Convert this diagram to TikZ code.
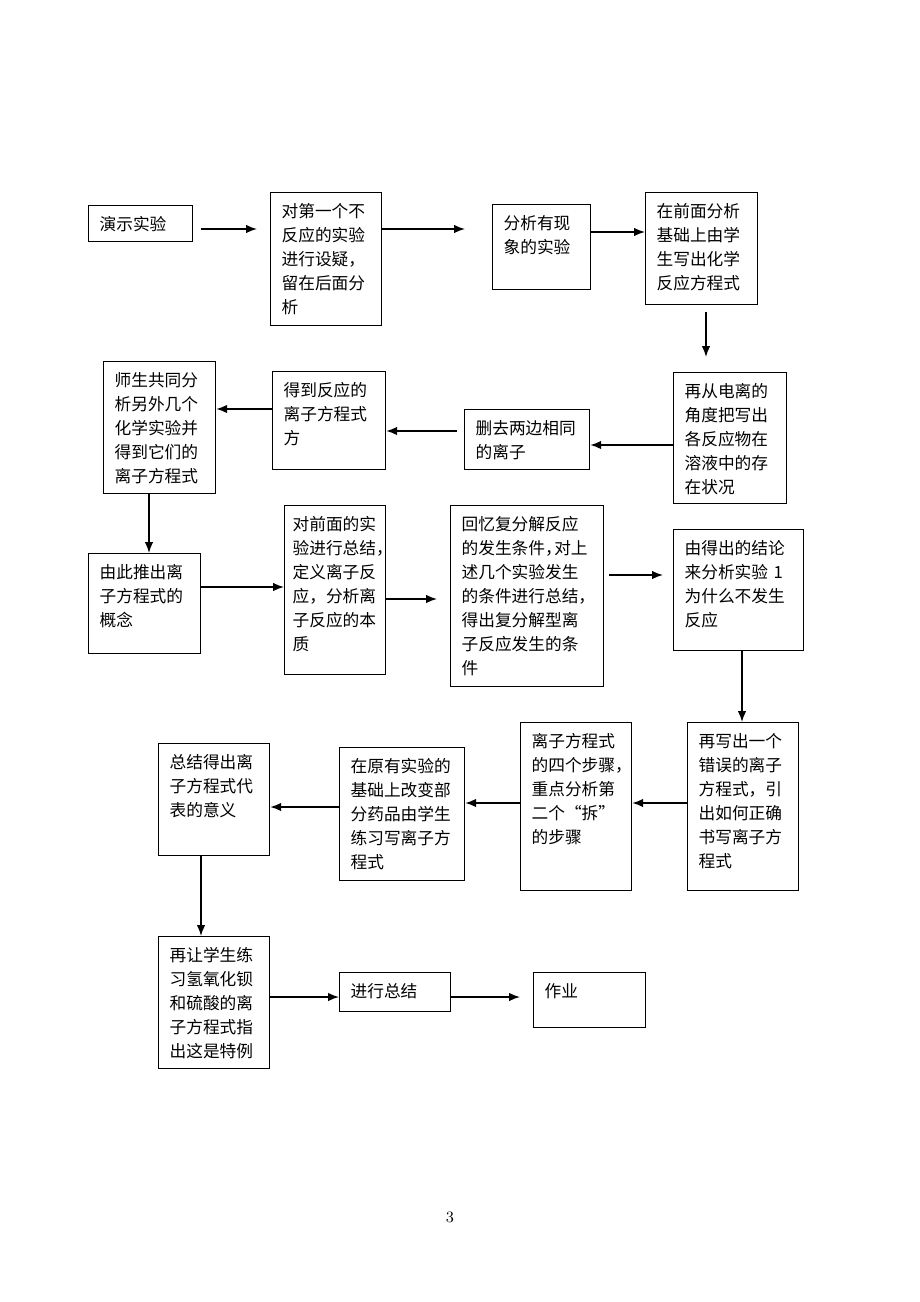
\documentclass[tikz,border=0pt]{standalone}
\usepackage{fontspec}
\newfontfamily\cjk{Noto Sans CJK SC}
\usetikzlibrary{arrows.meta}
\newcommand{\dou}{\makebox[0.55em][l]{，}}
\begin{document}
\begin{tikzpicture}[
  stepbox/.style = {draw, line width=0.7pt, anchor=north west,
    align=left, inner xsep=0.22cm, inner ysep=0.2cm, text height=0.3cm,
    font=\cjk\fontsize{9.5}{13.6}\selectfont},
  flow/.style = {draw, line width=0.8pt, -{Latex[length=0.22cm,width=0.17cm]}}]
  \useasboundingbox (0,0) rectangle (18.4,-26.04);
  % first row
  \node[stepbox, text width=1.64cm, text depth=0.02cm] (yanshi) at (1.76,-4.10) {演示实验};
  \node[stepbox, text width=1.78cm, text depth=1.96cm] (zhiyi) at (5.40,-3.84)
    {对第一个不\\反应的实验\\进行设疑，\\留在后面分\\析};
  \node[stepbox, text width=1.52cm, text depth=1.00cm] (xianxiang) at (9.84,-4.08)
    {分析有现\\象的实验};
  \node[stepbox, text width=1.80cm, text depth=1.54cm] (fangcheng) at (12.90,-3.84)
    {在前面分析\\基础上由学\\生写出化学\\反应方程式};
  % second row
  \node[stepbox, text width=1.82cm, text depth=1.92cm] (dianli) at (13.46,-7.44)
    {再从电离的\\角度把写出\\各反应物在\\溶液中的存\\在状况};
  \node[stepbox, text width=2.06cm, text depth=0.50cm] (shanqu) at (9.28,-8.18)
    {删去两边相同\\的离子};
  \node[stepbox, text width=1.82cm, text depth=1.26cm] (dedao) at (5.44,-7.42)
    {得到反应的\\离子方程式\\方};
  \node[stepbox, text width=1.80cm, text depth=1.94cm] (shisheng) at (2.06,-7.22)
    {师生共同分\\析另外几个\\化学实验并\\得到它们的\\离子方程式};
  % third row
  \node[stepbox, text width=1.80cm, text depth=1.30cm] (gainian) at (1.76,-11.06)
    {由此推出离\\子方程式的\\概念};
  \node[stepbox, inner xsep=0.16cm, text width=1.70cm, text depth=2.68cm] (zongjie) at (5.68,-10.10)
    {对前面的实\\验进行总结\dou\\定义离子反\\应，分析离\\子反应的本\\质};
  \node[stepbox, text width=2.62cm, text depth=2.92cm] (huiyi) at (9.00,-10.10)
    {回忆复分解反应\\的发生条件\dou 对上\\述几个实验发生\\的条件进行总结\dou\\得出复分解型离\\子反应发生的条\\件};
  \node[stepbox, text width=2.16cm, text depth=1.72cm] (jielun) at (13.46,-10.58)
    {由得出的结论\\来分析实验 1\\为什么不发生\\反应};
  % fourth row
  \node[stepbox, text width=1.78cm, text depth=2.66cm] (cuowu) at (13.74,-14.44)
    {再写出一个\\错误的离子\\方程式，引\\出如何正确\\书写离子方\\程式};
  \node[stepbox, text width=1.78cm, text depth=2.66cm] (buzhou) at (10.40,-14.44)
    {离子方程式\\的四个步骤\dou\\重点分析第\\二个“拆”\\的步骤};
  \node[stepbox, text width=2.06cm, text depth=1.96cm] (lianxi) at (6.78,-14.94)
    {在原有实验的\\基础上改变部\\分药品由学生\\练习写离子方\\程式};
  \node[stepbox, text width=1.78cm, text depth=1.54cm] (yiyi) at (3.16,-14.86)
    {总结得出离\\子方程式代\\表的意义};
  % last row
  \node[stepbox, text width=1.78cm, text depth=1.94cm] (teli) at (3.16,-18.72)
    {再让学生练\\习氢氧化钡\\和硫酸的离\\子方程式指\\出这是特例};
  \node[stepbox, text width=1.78cm, text depth=0.08cm] (guina) at (6.78,-19.44) {进行总结};
  \node[stepbox, text width=1.80cm, text depth=0.40cm] (zuoye) at (10.66,-19.44) {作业};
  \node[font=\fontsize{9}{11}\selectfont] (yema) at (9.0,-24.34) {3};
  % arrows
  \draw[flow, shorten <=0.16cm, shorten >=0.26cm] (yanshi.east |- 0,-4.58) -- (zhiyi.west |- 0,-4.58);
  \draw[flow, shorten >=0.54cm] (zhiyi.east |- 0,-4.58) -- (xianxiang.west |- 0,-4.58);
  \draw[flow] (xianxiang.east |- 0,-4.64) -- (fangcheng.west |- 0,-4.64);
  \draw[flow, shorten <=0.14cm, shorten >=0.30cm] (fangcheng.south -| 14.12,0) -- (dianli.north -| 14.12,0);
  \draw[flow] (dianli.west |- 0,-8.90) -- (shanqu.east |- 0,-8.90);
  \draw[flow, shorten <=0.14cm] (shanqu.west |- 0,-8.62) -- (dedao.east |- 0,-8.62);
  \draw[flow] (dedao.west |- 0,-8.18) -- (shisheng.east |- 0,-8.18);
  \draw[flow] (shisheng.south -| 2.98,0) -- (gainian.north -| 2.98,0);
  \draw[flow] (gainian.east |- 0,-11.74) -- (zongjie.west |- 0,-11.74);
  \draw[flow, shorten >=0.26cm] (zongjie.east |- 0,-11.98) -- (huiyi.west |- 0,-11.98);
  \draw[flow, shorten <=0.10cm, shorten >=0.20cm] (huiyi.east |- 0,-11.50) -- (jielun.west |- 0,-11.50);
  \draw[flow] (jielun.south -| 14.84,0) -- (cuowu.north -| 14.84,0);
  \draw[flow] (cuowu.west |- 0,-16.06) -- (buzhou.east |- 0,-16.06);
  \draw[flow] (buzhou.west |- 0,-16.06) -- (lianxi.east |- 0,-16.06);
  \draw[flow] (lianxi.west |- 0,-16.14) -- (yiyi.east |- 0,-16.14);
  \draw[flow] (yiyi.south -| 4.02,0) -- (teli.north -| 4.02,0);
  \draw[flow] (teli.east |- 0,-19.94) -- (guina.west |- 0,-19.94);
  \draw[flow, shorten >=0.26cm] (guina.east |- 0,-19.94) -- (zuoye.west |- 0,-19.94);
\end{tikzpicture}
\end{document}
